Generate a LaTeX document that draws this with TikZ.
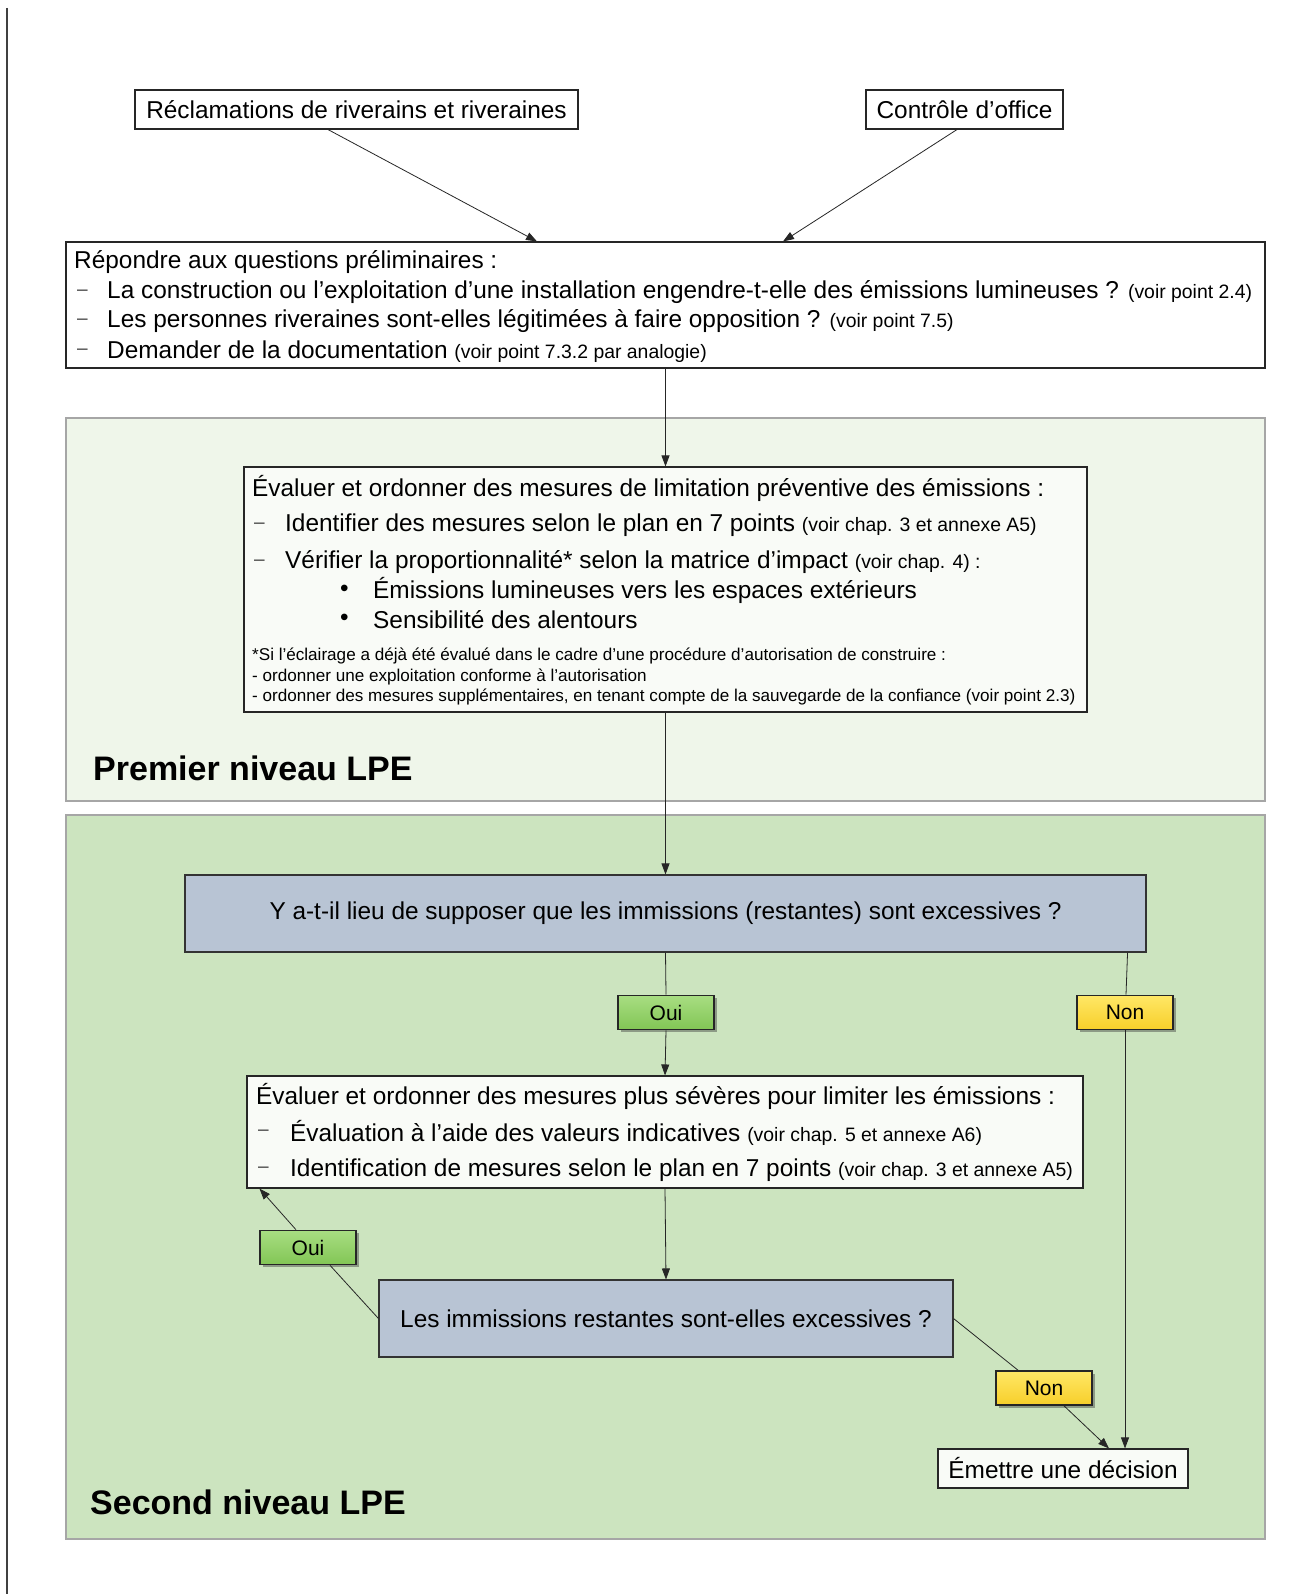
\documentclass[tikz,border=0pt]{standalone}
\usepackage{fontspec}
\setmainfont{Liberation Sans}
\usetikzlibrary{arrows.meta,calc,shadows}
\definecolor{levA}{HTML}{EFF6EA}
\definecolor{levB}{HTML}{CCE4BF}
\definecolor{arealine}{HTML}{A6A6A6}
\definecolor{qfill}{HTML}{B8C4D4}
\definecolor{boxfill}{HTML}{F9FBF7}
\definecolor{ouiTop}{HTML}{A8DD82}
\definecolor{ouiBot}{HTML}{82C655}
\definecolor{nonTop}{HTML}{FFE766}
\definecolor{nonBot}{HTML}{F7CF2A}
\newcommand{\fsz}[1]{\fontsize{#1}{#1}\selectfont}
\newcommand{\sm}[1]{{\fsz{19.4}#1}}
\newcommand{\dsh}{{\fsz{19}\color{black!75}–}}
\begin{document}
\begin{tikzpicture}[x=1pt,y=-1pt,
  area/.style={draw=arealine, line width=2pt, rectangle, inner sep=0pt},
  box/.style={draw=black!85, line width=1.1pt, fill=white, rectangle, inner sep=0pt, font=\fsz{24.4}},
  qbox/.style={box, fill=qfill, draw=black!80},
  lab/.style={draw=black!85, line width=1.6pt, rectangle, inner sep=0pt, font=\fsz{21},
    minimum width=96, minimum height=34,
    drop shadow={shadow xshift=2.5pt, shadow yshift=-2.5pt, opacity=0.45, fill=black!75}},
  ouilab/.style={lab, top color=ouiTop, bottom color=ouiBot},
  nonlab/.style={lab, top color=nonTop, bottom color=nonBot},
  txt/.style={anchor=west, inner sep=0pt},
  conn/.style={line width=0.8pt, draw=black!85},
  arr/.style={conn, -{Triangle[length=11pt,width=8pt]}},
  head/.style={anchor=west, inner sep=0pt, font=\bfseries\fsz{34}}
]
\useasboundingbox (0,0) rectangle (1312,1594);
\fill[white] (0,0) rectangle (1312,1594);
\draw[line width=2pt, draw=black!75] (7,8) -- (7,1594);

% level areas
\node[area, fill=levA, minimum width=1199, minimum height=383] (lev1) at (665.5,609.5) {};
\node[area, fill=levB, minimum width=1199, minimum height=724] (lev2) at (665.5,1177) {};
\node[head] (h1) at (93,768) {Premier niveau LPE};
\node[head] (h2) at (90,1502) {Second niveau LPE};

% top boxes
\node[box, minimum width=443, minimum height=39] (recl) at (356.5,109.5) {Réclamations de riverains et riveraines};
\node[box, minimum width=197, minimum height=39] (ctrl) at (964.5,109.5) {Contrôle d’office};

% preliminary box
\node[box, minimum width=1199, minimum height=126] (prelim) at (665.5,305) {};
\begin{scope}[font=\fsz{24.4}]
\node[txt] (p0) at (74,262.5) {Répondre aux questions préliminaires :};
\node[txt] (p1d) at (77,292.5) {\dsh};
\node[txt] (p1) at (107,292.5) {La construction ou l’exploitation d’une installation engendre-t-elle des émissions lumineuses ? \sm{(voir point 2.4)}};
\node[txt] (p2d) at (77,321.5) {\dsh};
\node[txt] (p2) at (107,321.5) {Les personnes riveraines sont-elles légitimées à faire opposition ? \sm{(voir point 7.5)}};
\node[txt] (p3d) at (77,351.5) {\dsh};
\node[txt] (p3) at (107,351.5) {Demander de la documentation \sm{(voir point 7.3.2 par analogie)}};
\end{scope}

% box 2
\node[box, fill=boxfill, minimum width=843, minimum height=245] (box2) at (665.5,589.5) {};
\begin{scope}[font=\fsz{24.4}]
\node[txt] (b0) at (252,488) {Évaluer et ordonner des mesures de limitation préventive des émissions :};
\node[txt] (b1d) at (254,525.5) {\dsh};
\node[txt] (b1) at (285,525.5) {Identifier des mesures selon le plan en 7 points \sm{(voir chap. 3 et annexe A5)}};
\node[txt] (b2d) at (254,562.5) {\dsh};
\node[txt] (b2) at (285,562.5) {Vérifier la proportionnalité* selon la matrice d’impact \sm{(voir chap. 4) :}};
\node[txt] (b3d) at (340,590.5) {•};
\node[txt] (b3) at (373,590.5) {Émissions lumineuses vers les espaces extérieurs};
\node[txt] (b4d) at (340,619.5) {•};
\node[txt] (b4) at (373,619.5) {Sensibilité des alentours};
\end{scope}
\begin{scope}[font=\fsz{17.1}]
\node[txt] (f0) at (252,656) {*Si l’éclairage a déjà été évalué dans le cadre d’une procédure d’autorisation de construire :};
\node[txt] (f1) at (252,676.5) {- ordonner une exploitation conforme à l’autorisation};
\node[txt] (f2) at (252,696.5) {- ordonner des mesures supplémentaires, en tenant compte de la sauvegarde de la confiance (voir point 2.3)};
\end{scope}

% question 1
\node[qbox, minimum width=961, minimum height=77, font=\fsz{24.4}] (q1) at (665.5,913.5) {Y a-t-il lieu de supposer que les immissions (restantes) sont excessives ?};
\node[ouilab] (oui1) at (666,1012.5) {Oui};
\node[nonlab] (non1) at (1125,1012.5) {Non};

% box 3
\node[box, fill=boxfill, minimum width=836, minimum height=112] (box3) at (665,1132) {};
\begin{scope}[font=\fsz{24.4}]
\node[txt] (c0) at (256,1096) {Évaluer et ordonner des mesures plus sévères pour limiter les émissions :};
\node[txt] (c1d) at (258,1133) {\dsh};
\node[txt] (c1) at (290,1133) {Évaluation à l’aide des valeurs indicatives \sm{(voir chap. 5 et annexe A6)}};
\node[txt] (c2d) at (258,1170) {\dsh};
\node[txt] (c2) at (290,1170) {Identification de mesures selon le plan en 7 points \sm{(voir chap. 3 et annexe A5)}};
\end{scope}

% question 2
\node[qbox, minimum width=574, minimum height=77, font=\fsz{24.4}] (q2) at (666,1318.5) {Les immissions restantes sont-elles excessives ?};
\node[ouilab] (oui2) at (308,1247.5) {Oui};
\node[nonlab] (non2) at (1044,1388) {Non};

% decision
\node[box, fill=boxfill, minimum width=250, minimum height=39] (emet) at (1063,1468.5) {Émettre une décision};

% connectors
\draw[arr] ($(recl.south)+(-28.5,0)$) -- ($(prelim.north)+(-128.5,0)$);
\draw[arr] ($(ctrl.south)+(-7.5,0)$) -- ($(prelim.north)+(117.5,0)$);
\draw[arr] (prelim.south) -- (box2.north);
\draw[arr] (box2.south) -- (q1.north);
\draw[conn] (q1.south) -- (oui1.north);
\draw[arr] (oui1.south) -- (box3.north);
\draw[conn] ($(q1.south east)+(-19,0)$) -- ($(non1.north)+(1,0)$);
\draw[arr] (non1.south) -- ($(emet.north)+(62,0)$);
\draw[arr] (box3.south) -- (q2.north);
\draw[conn] (q2.west) -- ($(oui2.south)+(22,0)$);
\draw[arr] ($(oui2.north)+(-12,0)$) -- ($(box3.south west)+(13,0)$);
\draw[conn] (q2.east) -- ($(non2.north)+(-26,0)$);
\draw[arr] ($(non2.south)+(20,0)$) -- ($(emet.north)+(46,0)$);
\end{tikzpicture}
\end{document}
